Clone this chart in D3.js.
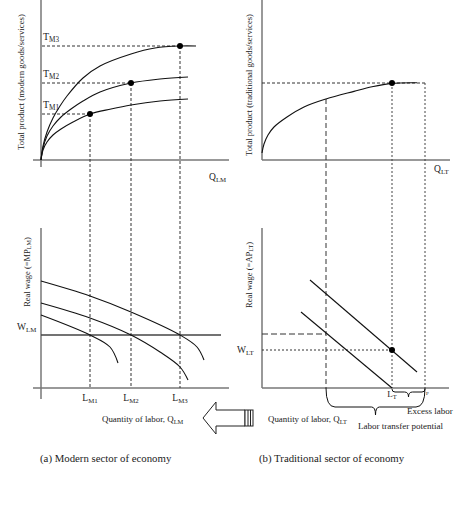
<!DOCTYPE html>
<html>
<head>
<meta charset="utf-8">
<script src="https://cdn.jsdelivr.net/npm/d3@7"></script>
<style>
  body { margin: 0; background: #fff; }
  text { font-family: "Liberation Serif", "Times New Roman", serif; fill: #222; }
</style>
</head>
<body>
<svg id="chart" width="474" height="526"></svg>
<script>
'use strict'

// --- modern sector (a) ---
const modernLabor  = [24.5, 45, 69.5]        // L_M1, L_M2, L_M3
const modernOutput = [23, 38.5, 57]          // T_M1, T_M2, T_M3
const modernNames  = ['M1', 'M2', 'M3']
const tpModern = [
  [[0, 0], [1, 5], [3, 9], [6, 12.5], [10, 15.5], [16, 19], [24.5, 23], [35, 25.5], [45, 27.5], [59.5, 29.5], [73.5, 30.5]],
  [[0, 0], [1, 6], [3, 12], [6, 17], [10, 21.5], [15, 25.5], [21, 29.5], [29.5, 34], [45, 38.5], [59.5, 40.5], [73.5, 41.5]],
  [[0, 0], [1, 7], [3, 14], [6, 21], [9.5, 27], [13, 32], [21, 41], [29.5, 47], [45, 53], [57, 56], [69.5, 57], [77.5, 57]]
]
const mpModern = [
  [[0, 36.5], [24.5, 26.5], [34.5, 20.5], [38.5, 12.5]],
  [[0, 42.5], [24.5, 35], [45, 26.5], [59.5, 18], [69.5, 10.5], [73.5, 4]],
  [[0, 53.5], [24.5, 46], [45, 38], [69.5, 26.5], [78, 20.5], [81.5, 14]]
]
const wageModern = 26.5

// --- traditional sector (b) ---
const tpTrad = [[0, 3.5], [1, 8], [3, 12.5], [6, 16.5], [12.5, 21.5], [21, 26.5], [32, 30.5], [46, 34.3], [55, 36.6], [65, 38.3], [77.5, 38.6]]
const apTrad = [
  [[24, 54], [77.5, 8]],
  [[19.5, 38], [65, 0]]
]
const transferStart = 32
const laborTrad = 65       // L_T
const laborTotal = 81.5    // P
const outputTrad = 38.5
const outputTransfer = 30.5
const wageTrad = 19
const wageTransfer = 27

const svg = d3.select('#chart')

const xM = d3.scaleLinear().domain([0, 94]).range([41, 229])
const xT = d3.scaleLinear().domain([0, 94]).range([262, 450])
const yTop = d3.scaleLinear().domain([0, 80]).range([160, 0])
const yBot = d3.scaleLinear().domain([0, 80]).range([388, 228])

function seg(x1, y1, x2, y2, stroke, width, dash) {
  svg.append('line')
      .attr('x1', x1).attr('y1', y1).attr('x2', x2).attr('y2', y2)
      .attr('stroke', stroke)
      .attr('stroke-width', width)
      .attr('stroke-dasharray', dash || null)
}

function label(x, y, main, sub, size, anchor) {
  const t = svg.append('text')
      .attr('x', x).attr('y', y)
      .attr('font-size', size || 8)
      .attr('text-anchor', anchor || 'start')
  t.append('tspan').text(main)
  if (sub) t.append('tspan').attr('font-size', (size || 8) * 0.72).attr('dy', 1.5).text(sub)
  return t
}

function vlabel(x, y, main, sub, size) {
  const t = svg.append('text')
      .attr('transform', 'translate(' + x + ',' + y + ') rotate(-90)')
      .attr('font-size', size || 7.5)
      .attr('text-anchor', 'middle')
  t.append('tspan').text(main)
  if (sub) {
    t.append('tspan').attr('font-size', (size || 7.5) * 0.72).attr('dy', 1.2).text(sub)
    t.append('tspan').attr('dy', -1.2).text(')')
  }
}

const axisColor = '#777'

// axes
seg(xM(0), yTop(80), xM(0), yTop(-3.5), axisColor, 1.5)
seg(xM(-4), yTop(0), xM(94), yTop(0), axisColor, 1.5)
seg(xM(0), yBot(80), xM(0), yBot(-5.5), axisColor, 1.5)
seg(xM(-4), yBot(0), xM(94), yBot(0), axisColor, 1.5)
seg(xT(0), yTop(80), xT(0), yTop(0), axisColor, 1.5)
seg(xT(0), yTop(0), xT(94), yTop(0), axisColor, 1.5)
seg(xT(0), yBot(80), xT(0), yBot(0), axisColor, 1.5)
seg(xT(0), yBot(0), xT(93.5), yBot(0), axisColor, 1.5)

// guide lines, modern sector
modernLabor.forEach((l, i) => {
  seg(xM(0.5), yTop(modernOutput[i]), xM(l), yTop(modernOutput[i]), '#333', 1, '3,2')
  seg(xM(l), yTop(modernOutput[i]), xM(l), yBot(0), '#333', 1, '3,2')
})

// guide lines, traditional sector
seg(xT(0), yTop(outputTrad), xT(laborTotal), yTop(outputTrad), '#333', 1, '3,2')
seg(xT(transferStart), yTop(outputTransfer), xT(transferStart), yBot(0), '#333', 1, '5,3')
seg(xT(laborTrad), yTop(outputTrad), xT(laborTrad), yBot(0), '#444', 1, '2,2')
seg(xT(laborTotal), yTop(outputTrad), xT(laborTotal), yBot(0), '#444', 1, '2,2')
seg(xT(0), yBot(wageTransfer), xT(transferStart), yBot(wageTransfer), '#333', 1, '6,3')
seg(xT(0), yBot(wageTrad), xT(laborTrad), yBot(wageTrad), '#333', 1, '2,2')

// wage line, modern sector
seg(xM(0), yBot(wageModern), xM(90), yBot(wageModern), '#444', 1.6)

// curves
const smooth = d3.curveCatmullRom.alpha(0.5)
const lineM = d3.line().x(d => xM(d[0])).y(d => yTop(d[1])).curve(smooth)
const lineMB = d3.line().x(d => xM(d[0])).y(d => yBot(d[1])).curve(smooth)
const lineT = d3.line().x(d => xT(d[0])).y(d => yTop(d[1])).curve(smooth)
const lineTB = d3.line().x(d => xT(d[0])).y(d => yBot(d[1]))

svg.selectAll('.tp-m')
    .data(tpModern)
  .enter().append('path')
    .attr('class', 'tp-m')
    .attr('d', lineM)
    .style('fill', 'none').style('stroke', '#111').style('stroke-width', 1.1)

svg.selectAll('.mp-m')
    .data(mpModern)
  .enter().append('path')
    .attr('class', 'mp-m')
    .attr('d', lineMB)
    .style('fill', 'none').style('stroke', '#111').style('stroke-width', 1.1)

svg.append('path')
    .datum(tpTrad)
    .attr('d', lineT)
    .style('fill', 'none').style('stroke', '#111').style('stroke-width', 1.1)

svg.selectAll('.ap-t')
    .data(apTrad)
  .enter().append('path')
    .attr('class', 'ap-t')
    .attr('d', lineTB)
    .style('fill', 'none').style('stroke', '#111').style('stroke-width', 1.1)

// dots
svg.selectAll('.dot-m')
    .data(modernLabor)
  .enter().append('circle')
    .attr('cx', d => xM(d))
    .attr('cy', (d, i) => yTop(modernOutput[i]))
    .attr('r', 3)
    .style('fill', '#000')
svg.append('circle').attr('cx', xT(laborTrad)).attr('cy', yTop(outputTrad)).attr('r', 3).style('fill', '#000')
svg.append('circle').attr('cx', xT(laborTrad)).attr('cy', yBot(wageTrad)).attr('r', 3).style('fill', '#000')

// braces
function brace(x1, x2, y0, y1, tip, r) {
  const m = (x1 + x2) / 2
  return 'M' + x1 + ',' + y0
      + 'Q' + x1 + ',' + y1 + ' ' + (x1 + r) + ',' + y1
      + 'L' + (m - 4) + ',' + y1
      + 'Q' + m + ',' + y1 + ' ' + m + ',' + tip
      + 'Q' + m + ',' + y1 + ' ' + (m + 4) + ',' + y1
      + 'L' + (x2 - r) + ',' + y1
      + 'Q' + x2 + ',' + y1 + ' ' + x2 + ',' + y0
}
svg.append('path')
    .attr('d', brace(xT(transferStart), xT(laborTotal), yBot(0), yBot(-9.5), yBot(-13.5), 9))
    .style('fill', 'none').style('stroke', '#111').style('stroke-width', 1)
svg.append('path')
    .attr('d', brace(xT(laborTrad), xT(laborTotal), yBot(-0.5), yBot(-2), yBot(-4.5), 3))
    .style('fill', 'none').style('stroke', '#111').style('stroke-width', 1)

// labels, modern sector
modernNames.forEach((n, i) => {
  label(xM(1), yTop(modernOutput[i]) - 6, 'T', n, 10)
  label(xM(modernLabor[i]), yBot(-6.5), 'L', n, 9.5, 'middle')
})
label(xM(84), yTop(-10), 'Q', 'LM', 9.5)
label(17, yBot(wageModern) - 5, 'W', 'LM', 9.5)
vlabel(24, 82, 'Total product (modern goods/services)', null, 8.8)
vlabel(30, 272, 'Real wage (=MP', 'LM', 8.5)
label(102, 422, 'Quantity of labor, Q', 'LM', 8.9)

// labels, traditional sector
label(xT(86), yTop(-6), 'Q', 'LT', 9.5)
label(237, yBot(wageTrad) + 3, 'W', 'LT', 9.5)
label(xT(laborTrad), yBot(-4.5), 'L', 'T', 9, 'middle')
label(xT(laborTotal) + 1, yBot(-3.5), 'P', null, 5)
vlabel(252, 85, 'Total product (traditional goods/services)', null, 8.6)
vlabel(252, 275, 'Real wage (=AP', 'LT', 8.5)
label(268, 422, 'Quantity of labor, Q', 'LT', 8.9)
label(407, 414, 'Excess labor', null, 9)
label(358, 429, 'Labor transfer potential', null, 9)

// transfer arrow
svg.append('path')
    .attr('d', 'M203,418 L216,402 L216,410 L245,410 L245,426 L216,426 L216,434 Z')
    .style('fill', '#fff').style('stroke', '#222').style('stroke-width', 1)
svg.append('rect')
    .attr('x', 245).attr('y', 410).attr('width', 8).attr('height', 16)
    .style('fill', '#fff').style('stroke', '#222').style('stroke-width', 1)
seg(248, 410, 248, 426, '#222', 1)
seg(250.5, 410, 250.5, 426, '#222', 1)

// captions
label(40, 462, '(a) Modern sector of economy', null, 10.8)
label(259, 462, '(b) Traditional sector of economy', null, 10.8)
</script>
</body>
</html>
